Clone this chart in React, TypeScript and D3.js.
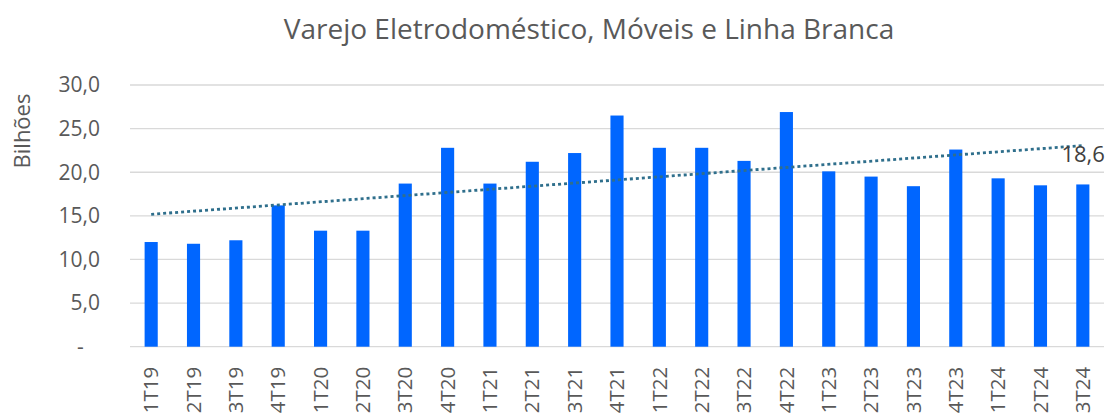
import React from "react";
import * as d3 from "d3";

const title = "Varejo Eletrodoméstico, Móveis e Linha Branca";
const yAxisTitle = "Bilhões";
const categories = [
  "1T19", "2T19", "3T19", "4T19",
  "1T20", "2T20", "3T20", "4T20",
  "1T21", "2T21", "3T21", "4T21",
  "1T22", "2T22", "3T22", "4T22",
  "1T23", "2T23", "3T23", "4T23",
  "1T24", "2T24", "3T24",
];
const values = [
  12.0, 11.8, 12.2, 16.2,
  13.3, 13.3, 18.7, 22.8,
  18.7, 21.2, 22.2, 26.5,
  22.8, 22.8, 21.3, 26.9,
  20.1, 19.5, 18.4, 22.6,
  19.3, 18.5, 18.6,
];
const yTicks = [0, 5, 10, 15, 20, 25, 30];
const lastLabel = "18,6";

const W = 1107;
const H = 416;
const M = { left: 130, right: 1104, top: 85, bottom: 346.7 };
const FONT = "'Open Sans', sans-serif";

export default function App() {
  const x = d3
    .scaleBand<string>()
    .domain(categories)
    .range([M.left, M.right])
    .paddingInner(0.69)
    .paddingOuter(0.345);
  const y = d3.scaleLinear().domain([0, 30]).range([M.bottom, M.top]);

  // linear trendline (least squares over category index)
  const n = values.length;
  const xs = values.map((_, i) => i + 1);
  const mx = d3.mean(xs) as number;
  const my = d3.mean(values) as number;
  let sxy = 0;
  let sxx = 0;
  xs.forEach((xi, i) => {
    sxy += (xi - mx) * (values[i] - my);
    sxx += (xi - mx) * (xi - mx);
  });
  const slope = sxy / sxx;
  const intercept = my - slope * mx;
  const trendPts: [number, number][] = [
    [(x(categories[0]) as number) + x.bandwidth() / 2, y(intercept + slope * 1)],
    [(x(categories[n - 1]) as number) + x.bandwidth() / 2, y(intercept + slope * n)],
  ];
  const line = d3.line();

  const fmt = (v: number) =>
    v === 0 ? "-\u00A0\u00A0\u00A0" : d3.format(".1f")(v).replace(".", ",");

  const lastX = (x(categories[n - 1]) as number) + x.bandwidth() / 2;

  return (
    <svg
      width={W}
      height={H}
      style={{ position: "absolute", left: 0, top: 0, background: "#fff" }}
      fontFamily={FONT}
    >
      <rect x={0} y={0} width={W} height={H} fill="#fff" />
      <text x={589} y={39} textAnchor="middle" fontSize={28} fill="#595959">
        {title}
      </text>
      <text
        transform={`translate(30,131) rotate(-90)`}
        textAnchor="middle"
        fontSize={22}
        fill="#595959"
      >
        {yAxisTitle}
      </text>
      {yTicks.map((t) => (
        <g key={t}>
          <line
            x1={M.left}
            x2={M.right}
            y1={y(t)}
            y2={y(t)}
            stroke="#d9d9d9"
            strokeWidth={1.3}
          />
          <text
            x={100}
            y={y(t)}
            dy="0.35em"
            textAnchor="end"
            fontSize={21}
            fill="#595959"
          >
            {fmt(t)}
          </text>
        </g>
      ))}
      {categories.map((c, i) => (
        <rect
          key={c}
          x={x(c)}
          y={y(values[i])}
          width={x.bandwidth()}
          height={y(0) - y(values[i])}
          fill="#0066FF"
        />
      ))}
      <path
        d={line(trendPts) as string}
        fill="none"
        stroke="#2F6F8C"
        strokeWidth={2.8}
        strokeDasharray="3 3"
      />
      {categories.map((c) => {
        const cx = (x(c) as number) + x.bandwidth() / 2;
        return (
          <text
            key={c}
            transform={`translate(${cx},${M.bottom + 20}) rotate(-90)`}
            textAnchor="end"
            dy="0.35em"
            fontSize={20.5}
            fill="#595959"
          >
            {c}
          </text>
        );
      })}
      <text
        x={lastX + 22}
        y={trendPts[1][1] + 16}
        textAnchor="end"
        fontSize={22}
        fill="#404040"
      >
        {lastLabel}
      </text>
    </svg>
  );
}
